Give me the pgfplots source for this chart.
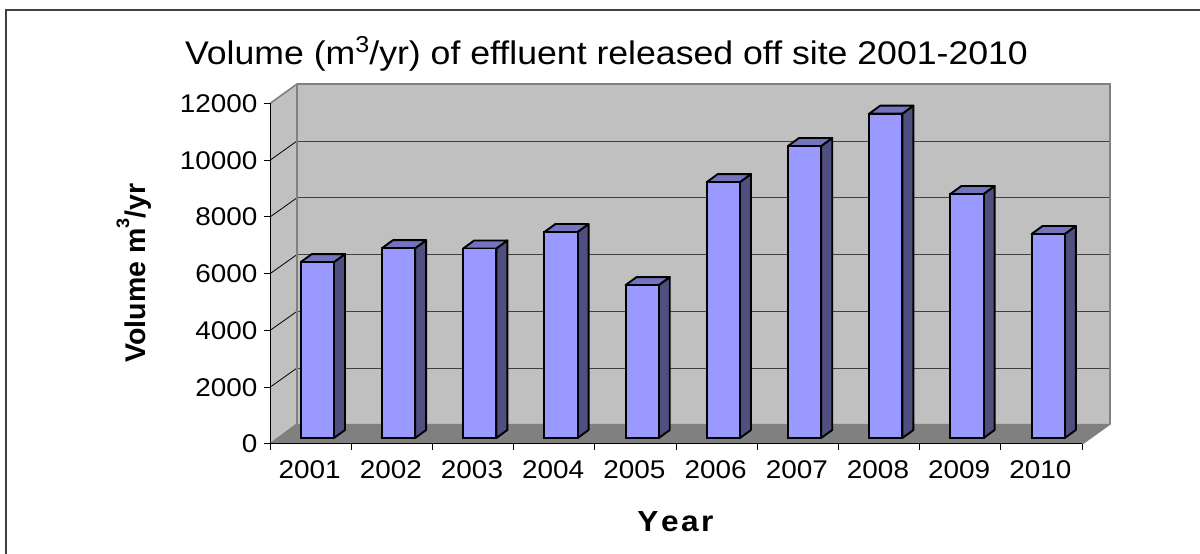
\documentclass[border=0pt]{standalone}
\usepackage{fontspec}
\setmainfont[FakeStretch=1.09]{Liberation Sans}
\newfontfamily\uprightlabel{Liberation Sans}
\usepackage{pgfplots}
\usepackage{pgfplotstable}
\pgfplotsset{compat=1.18}

\definecolor{wall}{HTML}{C0C0C0}
\definecolor{floorc}{HTML}{808080}
\definecolor{edge}{HTML}{808080}
\definecolor{grid}{HTML}{404040}
\definecolor{frame}{HTML}{404040}
\definecolor{barfront}{HTML}{9999FF}
\definecolor{barside}{HTML}{4F4F80}
\definecolor{bartop}{HTML}{7373BF}

% Annual effluent volume, m3/yr
\pgfplotstableread{
idx year vol
0 2001 6200
1 2002 6690
2 2003 6680
3 2004 7260
4 2005 5390
5 2006 9020
6 2007 10290
7 2008 11430
8 2009 8600
9 2010 7190
}\effluent

% Oblique projection: offsets of the depth direction in axis units
\def\barDX{0.1355}
\def\barDY{281.9}
\def\halfW{0.2044}

\newcommand{\labelfont}{\fontsize{25.6}{30}\selectfont}
% raised cube exponent: size and lift in pt
\newcommand{\cube}[2]{\raisebox{#2pt}{\fontsize{#1}{#1}\selectfont 3}}

\begin{document}
\begin{tikzpicture}[x=1pt,y=1pt]
\path[use as bounding box] (0,0) rectangle (1200,554);
\draw[frame,line width=1.5pt] (6,0) -- (6,544) -- (1200,544);

\begin{axis}[
  at={(270pt,110pt)}, anchor=south west,
  scale only axis, width=840pt, height=360pt,
  xmin=-0.5837, xmax=9.7611, ymin=-211.45, ymax=12475.8,
  clip=false,
  axis x line*=bottom, axis y line*=left,
  axis line style={draw=none},
  scaled x ticks=false, scaled y ticks=false,
  xtick={-0.0837,0.9163,1.9163,2.9163,3.9163,4.9163,5.9163,6.9163,7.9163,8.9163},
  xticklabels={2001,2002,2003,2004,2005,2006,2007,2008,2009,2010},
  ytick={-211.45,1788.55,3788.55,5788.55,7788.55,9788.55,11788.55},
  yticklabels={0,2000,4000,6000,8000,10000,12000},
  major tick length=0pt,
  ytick style={draw=none},
  xtick style={draw=none},
  xticklabel style={font=\labelfont, yshift=-13.5pt, xshift=-1pt, anchor=north},
  yticklabel style={font=\labelfont, xshift=-9pt},
  grid=none,
]
% left wall, back wall and floor
\addplot[fill=wall,draw=none,forget plot] coordinates {(-0.5837,-211.45) (-0.2512,493.4) (-0.2512,12475.8) (-0.5837,11788.55)} -- cycle;
\addplot[fill=wall,draw=none,forget plot] coordinates {(-0.2512,493.4) (9.7611,493.4) (9.7611,12475.8) (-0.2512,12475.8)} -- cycle;
\addplot[fill=floorc,draw=none,forget plot] coordinates {(-0.5837,-211.45) (-0.2512,493.4) (9.7611,493.4) (9.4163,-211.45)} -- cycle;

% gridlines across the back wall and along the left wall
\pgfplotsinvokeforeach{2000,4000,6000,8000,10000}{
  \pgfmathsetmacro{\fy}{#1-211.45}
  \pgfmathsetmacro{\by}{#1+465}
  \edef\temp{\noexpand\addplot[draw=grid,line width=1.1pt,forget plot] coordinates {(-0.2512,\by) (9.7611,\by)};
    \noexpand\addplot[draw=black,line width=0.8pt,forget plot] coordinates {(-0.5837,\fy) (-0.2512,\by)};}
  \temp
}

% wall outlines
\addplot[draw=edge,line width=1.6pt,forget plot] coordinates {(-0.5837,11788.55) (-0.2512,12475.8) (9.7611,12475.8) (9.7611,493.4) (9.4163,-211.45)};
\addplot[draw=edge,line width=1.6pt,forget plot] coordinates {(-0.2512,12475.8) (-0.2512,493.4) (-0.5837,-211.45)};
\addplot[draw=black,line width=1pt,forget plot] coordinates {(-0.5837,11788.55) (-0.5837,-211.45) (9.4163,-211.45)};
% tick marks on both axes
\pgfplotsinvokeforeach{-211.45,1788.55,3788.55,5788.55,7788.55,9788.55,11788.55}{
  \addplot[draw=black,line width=1pt,forget plot] coordinates {(-0.6576,#1) (-0.5837,#1)};
}
\pgfplotsinvokeforeach{-0.5837,0.4163,1.4163,2.4163,3.4163,4.4163,5.4163,6.4163,7.4163,8.4163,9.4163}{
  \addplot[draw=black,line width=1pt,forget plot] coordinates {(#1,-211.45) (#1,-423)};
}

% side and top faces of each column
\pgfplotsinvokeforeach{0,...,9}{
  \pgfplotstablegetelem{#1}{vol}\of\effluent
  \pgfmathsetmacro{\v}{\pgfplotsretval}
  \pgfmathsetmacro{\xl}{#1-\halfW}
  \pgfmathsetmacro{\xr}{#1+\halfW}
  \pgfmathsetmacro{\xlb}{\xl+\barDX}
  \pgfmathsetmacro{\xrb}{\xr+\barDX}
  \pgfmathsetmacro{\vb}{\v+\barDY}
  \edef\temp{\noexpand\addplot[fill=barside,draw=black,line width=1.9pt,line join=round,forget plot] coordinates {(\xr,0) (\xrb,\barDY) (\xrb,\vb) (\xr,\v)} -- cycle;
    \noexpand\addplot[fill=bartop,draw=black,line width=1.9pt,line join=round,forget plot] coordinates {(\xl,\v) (\xlb,\vb) (\xrb,\vb) (\xr,\v)} -- cycle;}
  \temp
}

% front faces of the columns
\addplot[ybar,bar width=33.2pt,bar shift=0pt,fill=barfront,draw=black,line width=1.9pt] table[x=idx,y=vol] {\effluent};
\end{axis}

\node[anchor=base,font=\fontsize{32.7}{36}\selectfont] at (606.5,489) {Volume (m\cube{23}{12.5}/yr) of effluent released off site 2001-2010};
\node[anchor=base,rotate=90,font=\uprightlabel\fontsize{28.5}{32}\selectfont\bfseries] at (145,281) {Volume m\cube{18}{16}/yr};
\node[anchor=base,font=\fontsize{29}{32}\selectfont\bfseries] at (675.5,22.3) {Y\kern2.5pt e\kern2.5pt a\kern2.5pt r};
\end{tikzpicture}
\end{document}
